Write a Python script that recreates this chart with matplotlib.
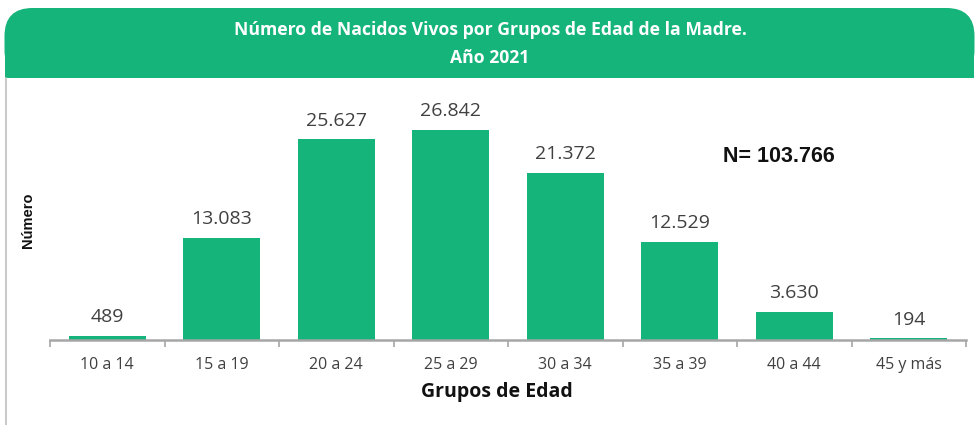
import matplotlib.pyplot as plt
from matplotlib.patches import FancyBboxPatch, Rectangle
from matplotlib.lines import Line2D

grupos = ["10 a 14", "15 a 19", "20 a 24", "25 a 29", "30 a 34", "35 a 39", "40 a 44", "45 y más"]
nacidos = [489, 13083, 25627, 26842, 21372, 12529, 3630, 194]
etiquetas = ["489", "13.083", "25.627", "26.842", "21.372", "12.529", "3.630", "194"]
total = "N= 103.766"

verde = "#15b47b"
gris_texto = "#404040"

fig = plt.figure(figsize=(9.75, 4.25), dpi=100)
W, H = 9.75, 4.25

# header band with rounded top corners
tr = fig.dpi_scale_trans
fig.patches.append(FancyBboxPatch((0.045, H - 0.78), 9.70, 0.70,
                                  boxstyle="round,pad=0,rounding_size=0.28",
                                  facecolor=verde, edgecolor="none", transform=tr, zorder=0))
fig.patches.append(Rectangle((0.045, H - 0.78), 9.70, 0.35, facecolor=verde,
                             edgecolor="none", transform=tr, zorder=0))
fig.lines.append(Line2D([0.06, 0.06], [0, H - 0.78], color="#bfbfbf", lw=1.2, transform=tr))

fig.text(490 / 975, 1 - 30 / 425, "Número de Nacidos Vivos por Grupos de Edad de la Madre.",
         ha="center", va="center", color="white", fontsize=12.7, fontweight="bold",
         family="Open Sans")
fig.text(490 / 975, 1 - 58 / 425, "Año 2021", ha="center", va="center", color="white",
         fontsize=12.7, fontweight="bold", family="Open Sans")

ax = fig.add_axes([50 / 975, 0.2, 916 / 975, 0.5765])
x = range(len(grupos))
bars = ax.bar(x, nacidos, width=0.67, color=verde, zorder=2)
for b, t in zip(bars, etiquetas):
    ax.annotate(t, (b.get_x() + b.get_width() / 2, b.get_height()), xytext=(0, 7),
                textcoords="offset points", ha="center", va="bottom", fontsize=14,
                color=gris_texto, family="Open Sans")

ax.set_xlim(-0.5, len(grupos) - 0.5)
ax.set_ylim(0, 26842 * 245 / 210)
for s in ["top", "right", "left"]:
    ax.spines[s].set_visible(False)
ax.spines["bottom"].set_color("#a6a6a6")
ax.spines["bottom"].set_linewidth(1.8)
ax.spines["bottom"].set_zorder(3)
ax.set_yticks([])
ax.set_xticks(list(x))
ax.set_xticklabels(grupos, fontsize=11.5, color=gris_texto, family="Open Sans")
ax.tick_params(axis="x", which="major", length=0, pad=12)
ax.set_xticks([i - 0.5 for i in range(len(grupos) + 1)], minor=True)
ax.tick_params(axis="x", which="minor", length=5, width=1.2, color="#a6a6a6")

fig.text(497 / 975, 1 - 392 / 425, "Grupos de Edad", ha="center", va="center",
         fontsize=14, fontweight="bold", color="#111111", family="Open Sans")
fig.text(28 / 975, 1 - 220 / 425, "Número", ha="center", va="center", rotation=90,
         fontsize=10.5, fontweight="bold", color="#111111", family="Liberation Sans")
fig.text(779 / 975, 1 - 156 / 425, total, ha="center", va="center", fontsize=15.5,
         fontweight="bold", color="#111111", family="Liberation Sans")

fig.savefig("out.png", dpi=100)
